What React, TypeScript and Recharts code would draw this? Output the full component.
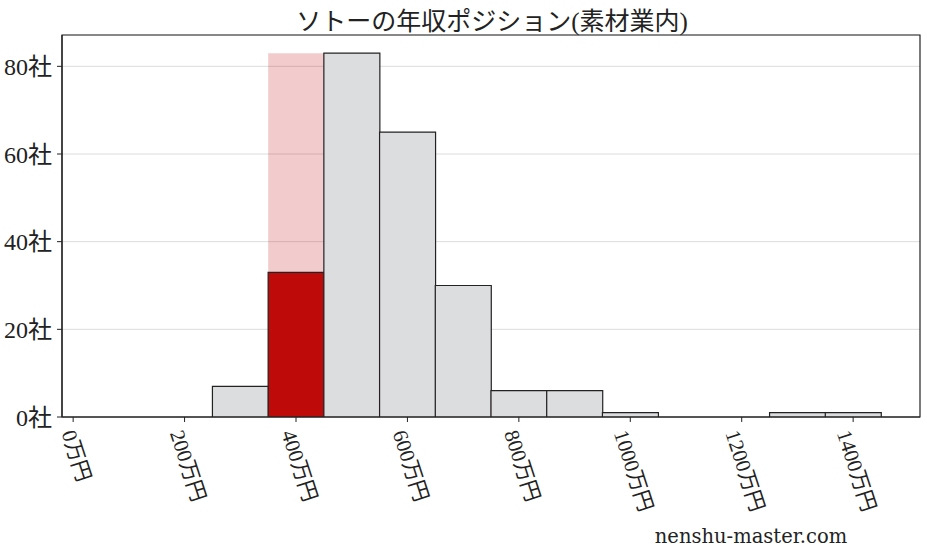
import React from 'react';
import { ComposedChart, Bar, XAxis, YAxis, CartesianGrid, Cell, ReferenceArea } from 'recharts';

// ---- data ----
const binCenters = [300, 400, 500, 600, 700, 800, 900, 1000, 1100, 1200, 1300, 1400];
const companyCounts = [7, 33, 83, 65, 30, 6, 6, 1, 0, 0, 1, 1];
const highlightBin = 400;
const highlightTop = 83;
const xTicks = [0, 200, 400, 600, 800, 1000, 1200, 1400];
const yTicks = [0, 20, 40, 60, 80];
const xDomain = [-20, 1520];
const yDomain = [0, 87.15];
const titleText = 'ソトーの年収ポジション(素材業内)';
const watermarkText = 'nenshu-master.com';
const xUnit = '万円';
const yUnit = '社';

const data = binCenters.map((x, i) => ({
  x,
  count: companyCounts[i],
  highlight: x === highlightBin ? highlightTop : null,
}));

const FONT = "'Liberation Serif', 'Noto Sans CJK JP', serif";
const INK = '#222222';

const XTick = (props: any) => {
  const { x, y, payload } = props;
  const label = `${payload.value}${xUnit}`;
  const f = 21;
  const ang = 72;
  const rad = (ang * Math.PI) / 180;
  const L = (String(payload.value).length * 0.5 + 2) * f;
  const w = L * Math.cos(rad) + f * 0.85 * Math.sin(rad);
  const sx = x - w / 2 + 5;
  return (
    <text
      transform={`translate(${sx},${y + 9}) rotate(${ang})`}
      fontSize={f}
      fontFamily={FONT}
      fill={INK}
      textAnchor="start"
    >
      {label}
    </text>
  );
};

export default function App() {
  return (
    <div style={{ position: 'absolute', left: 0, top: 0, width: 927, height: 557, background: '#fff' }}>
      <ComposedChart
        width={927}
        height={557}
        data={data}
        margin={{ top: 35, right: 7, left: 0, bottom: 0 }}
        barCategoryGap={0}
        barGap={0}
      >
        <CartesianGrid vertical={false} stroke="#dcdcdc" strokeWidth={1} />
        <XAxis
          dataKey="x"
          type="number"
          domain={xDomain}
          ticks={xTicks}
          interval={0}
          height={140}
          tick={<XTick />}
          tickSize={5}
          tickLine={{ stroke: INK }}
          axisLine={{ stroke: INK, strokeWidth: 1.2 }}
          allowDataOverflow
        />
        <XAxis
          xAxisId="top"
          dataKey="x"
          type="number"
          orientation="top"
          domain={xDomain}
          height={0}
          tick={false}
          tickLine={false}
          axisLine={false}
          allowDataOverflow
        />
        <YAxis
          type="number"
          domain={yDomain}
          ticks={yTicks}
          interval={0}
          width={62}
          tickSize={5}
          tickMargin={5}
          tickFormatter={(v: number) => `${v}${yUnit}`}
          tick={{ fontSize: 24, fill: INK, fontFamily: FONT }}
          tickLine={{ stroke: INK }}
          axisLine={{ stroke: INK, strokeWidth: 1.2 }}
          allowDataOverflow
        />
        <Bar
          xAxisId="top"
          dataKey="highlight"
          fill="#c00000"
          fillOpacity={0.2}
          isAnimationActive={false}
        />
        <Bar dataKey="count" stroke={INK} strokeWidth={1.2} isAnimationActive={false}>
          {data.map((d) => (
            <Cell key={d.x} fill={d.x === highlightBin ? '#bf0a0a' : '#dcdddf'} />
          ))}
        </Bar>
        <ReferenceArea
          x1={xDomain[0]}
          x2={xDomain[1]}
          y1={yDomain[0]}
          y2={yDomain[1]}
          fill="none"
          fillOpacity={0}
          stroke={INK}
          strokeWidth={1.2}
          strokeOpacity={1}
          ifOverflow="visible"
        />
      </ComposedChart>
      <svg
        width={927}
        height={557}
        style={{ position: 'absolute', left: 0, top: 0, pointerEvents: 'none' }}
      >
        <text x={492} y={30} textAnchor="middle" fontSize={25} fontFamily={FONT} fill={INK}>
          {titleText}
        </text>
        <text
          x={751}
          y={543}
          textAnchor="middle"
          fontSize={19.5}
          fontFamily="'DejaVu Serif', serif"
          fill={INK}
        >
          {watermarkText}
        </text>
      </svg>
    </div>
  );
}
